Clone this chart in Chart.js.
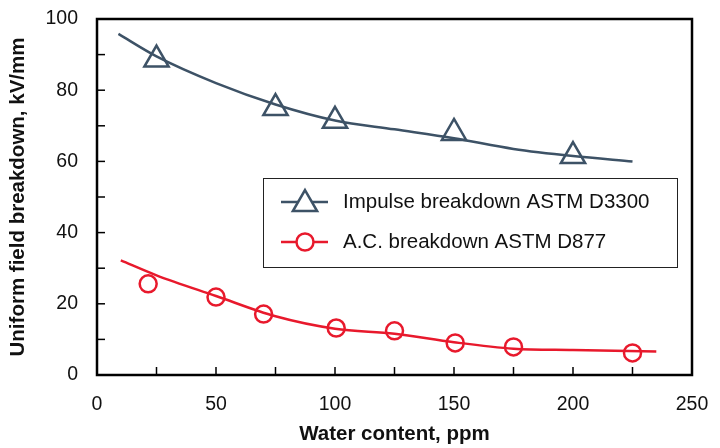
<!DOCTYPE html>
<html>
<head>
<meta charset="utf-8">
<script src="https://cdn.jsdelivr.net/npm/chart.js@4/dist/chart.umd.min.js"></script>
<style>
  html, body { margin: 0; padding: 0; background: #fff; }
  #wrap { width: 720px; height: 448px; }
</style>
</head>
<body>
<div id="wrap"><canvas id="chart" width="720" height="448"></canvas></div>
<script>
// fitted curves
const impulseCurveX = [9, 25, 50, 75, 100, 125, 150, 175, 200, 225];
const impulseCurveY = [95.8, 89.5, 82, 76, 71.5, 69, 66.5, 63.5, 61.5, 60];
const acCurveX = [10, 25, 50, 75, 100, 125, 150, 175, 200, 235];
const acCurveY = [32.2, 28, 22.2, 16.5, 13, 11.6, 9.2, 7.4, 7, 6.6];

// measured points
const impulseX = [25, 75, 100, 150, 200];
const impulseY = [88.6, 75, 71.4, 68, 61.5];
const acX = [21.5, 50, 70, 100.5, 125, 150.5, 175, 225];
const acY = [25.6, 21.9, 17.1, 13.2, 12.4, 9, 7.9, 6.2];

const xTicks = [0, 50, 100, 150, 200, 250];
const yTicks = [0, 20, 40, 60, 80, 100];

const SLATE = '#3d5266';
const RED = '#e8192c';
const FONT = '"Liberation Sans", Arial, Helvetica, sans-serif';

function pairs(xs, ys) {
  return xs.map((x, i) => ({ x: x, y: ys[i] }));
}

const legendItems = [
  { label: 'Impulse breakdown ASTM D3300', color: SLATE, style: 'triangle', radius: 14 },
  { label: 'A.C. breakdown ASTM D877', color: RED, style: 'circle', radius: 8.5 },
];

// inward minor ticks, frame and legend box
const decorPlugin = {
  id: 'decor',
  afterDraw(chart) {
    const ctx = chart.ctx;
    const a = chart.chartArea;
    const xs = chart.scales.x;
    const ys = chart.scales.y;
    ctx.save();
    ctx.strokeStyle = '#000';
    ctx.lineWidth = 1.5;
    for (let v = 25; v < 250; v += 25) {
      const px = xs.getPixelForValue(v);
      ctx.beginPath();
      ctx.moveTo(px, a.bottom);
      ctx.lineTo(px, a.bottom - 8);
      ctx.stroke();
    }
    for (let v = 10; v < 100; v += 10) {
      const py = ys.getPixelForValue(v);
      ctx.beginPath();
      ctx.moveTo(a.left, py);
      ctx.lineTo(a.left + 8, py);
      ctx.stroke();
    }
    ctx.lineWidth = 2.5;
    ctx.strokeRect(a.left, a.top, a.right - a.left, a.bottom - a.top);

    // legend
    const lx = 263, ly = 178, lw = 414, lh = 89;
    ctx.fillStyle = '#fff';
    ctx.fillRect(lx, ly, lw, lh);
    ctx.lineWidth = 1;
    ctx.strokeStyle = '#222';
    ctx.strokeRect(lx + 0.5, ly + 0.5, lw, lh);
    legendItems.forEach((it, i) => {
      const cy = ly + 24 + i * 40;
      ctx.strokeStyle = it.color;
      ctx.lineWidth = 2.5;
      ctx.beginPath();
      ctx.moveTo(281, cy);
      ctx.lineTo(328, cy);
      ctx.stroke();
      ctx.fillStyle = '#fff';
      const ptY = it.style === 'triangle' ? cy + 2 : cy;
      Chart.helpers.drawPoint(ctx, { pointStyle: it.style, radius: it.radius, borderWidth: 2.5, rotation: 0 }, 305, ptY);
      ctx.fillStyle = '#111';
      ctx.font = '20.5px ' + FONT;
      ctx.textBaseline = 'middle';
      ctx.fillText(it.label, 343, cy);
    });
    ctx.restore();
  }
};

const ctx = document.getElementById('chart');
new Chart(ctx, {
  type: 'scatter',
  data: {
    datasets: [
      { label: 'impulse fit', data: pairs(impulseCurveX, impulseCurveY), showLine: true, pointRadius: 0,
        borderColor: SLATE, borderWidth: 2.5, cubicInterpolationMode: 'monotone' },
      { label: 'ac fit', data: pairs(acCurveX, acCurveY), showLine: true, pointRadius: 0,
        borderColor: RED, borderWidth: 2.5, cubicInterpolationMode: 'monotone' },
      { label: 'impulse', data: pairs(impulseX, impulseY), showLine: false, pointStyle: 'triangle',
        pointRadius: 14, borderColor: SLATE, backgroundColor: '#fff', pointBorderWidth: 2.5 },
      { label: 'ac', data: pairs(acX, acY), showLine: false, pointStyle: 'circle',
        pointRadius: 8.5, borderColor: RED, backgroundColor: '#fff', pointBorderWidth: 2.5 },
    ]
  },
  options: {
    responsive: false,
    animation: false,
    layout: { padding: { top: 19, right: 28, left: 0, bottom: 0 } },
    plugins: { legend: { display: false }, tooltip: { enabled: false } },
    scales: {
      x: {
        type: 'linear', min: 0, max: 250,
        afterFit(s) { s.height = 73; s.paddingLeft = 0; s.paddingRight = 0; },
        afterBuildTicks(s) { s.ticks = xTicks.map((v) => ({ value: v })); },
        grid: { display: false, drawTicks: false },
        border: { display: false },
        ticks: { padding: 18, color: '#111', font: { family: FONT, size: 19.5 } },
        title: { display: true, text: 'Water content, ppm', color: '#111',
          font: { family: FONT, size: 20.5, weight: 'bold' }, padding: { top: 0, bottom: 1 } }
      },
      y: {
        type: 'linear', min: 0, max: 100,
        afterFit(s) { s.width = 97; s.paddingTop = 0; s.paddingBottom = 0; },
        afterBuildTicks(s) { s.ticks = yTicks.map((v) => ({ value: v })); },
        grid: { display: false, drawTicks: false },
        border: { display: false },
        ticks: { padding: 19, color: '#111', font: { family: FONT, size: 19.5 } },
        title: { display: true, text: 'Uniform field breakdown, kV/mm', color: '#111',
          font: { family: FONT, size: 20.5, weight: 'bold' }, padding: { top: 6, bottom: 0 } }
      }
    }
  },
  plugins: [decorPlugin]
});
</script>
</body>
</html>
